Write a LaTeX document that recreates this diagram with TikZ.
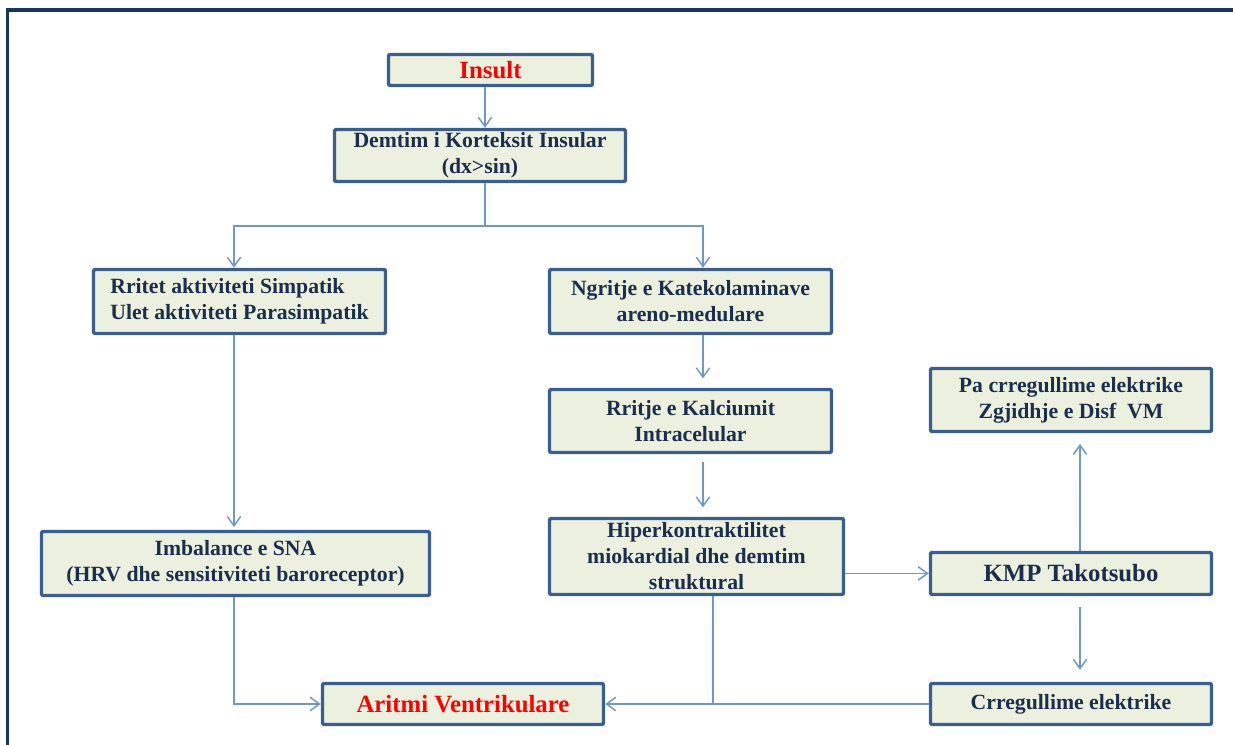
\documentclass[tikz,border=0pt]{standalone}
\usepackage{fontspec}
\setmainfont{Liberation Serif}
\usetikzlibrary{arrows.meta,calc}
\definecolor{boxfill}{HTML}{EBF1DE}
\definecolor{boxdraw}{HTML}{3A5F8C}
\definecolor{txt}{HTML}{1B2F4D}
\definecolor{arrc}{HTML}{6F97CC}
\definecolor{framec}{HTML}{17365D}
\definecolor{redt}{HTML}{FF0000}
\tikzset{
  stepbox/.style={draw=boxdraw, fill=boxfill, line width=2.6pt, rounded corners=1pt,
    align=center, inner sep=0pt, text=txt,
    font=\bfseries\fontsize{16.3}{19.5}\selectfont},
  bigbox/.style={stepbox, font=\bfseries\fontsize{18.6}{22}\selectfont},
  conn/.style={draw=arrc, line width=1.1pt},
  arr/.style={conn, -{Straight Barb[length=7pt,width=10pt,line width=1.1pt]}},
}
\begin{document}
\begin{tikzpicture}[x=0.75pt,y=-0.75pt]
\useasboundingbox (0,0) rectangle (1233,745);
\draw[framec, line width=2.3pt] (7.5,746) -- (7.5,10) -- (1234,10);

\node[bigbox, minimum width=153pt, minimum height=23.25pt, text=redt] (insult) at (490.5,70) {Insult};
\node[stepbox, minimum width=218.25pt, minimum height=39pt] (demtim) at (480,155.5) {Demtim i Korteksit Insular\\(dx>sin)};
\node[stepbox, minimum width=219pt, minimum height=48pt, align=left] (rritet) at (239.5,301.5) {Rritet aktiviteti Simpatik\\Ulet aktiviteti Parasimpatik};
\node[stepbox, minimum width=211.5pt, minimum height=48pt] (ngritje) at (690.5,301.5) {Ngritje e Katekolaminave\\areno-medulare};
\node[stepbox, minimum width=211.5pt, minimum height=47.25pt] (rritje) at (690.5,421) {Rritje e Kalciumit\\Intracelular};
\node[stepbox, minimum width=220.5pt, minimum height=57pt] (hiper) at (696.5,556.5) {Hiperkontraktilitet\\miokardial dhe demtim\\struktural};
\node[stepbox, minimum width=291pt, minimum height=48pt] (imb) at (235.5,563.5) {Imbalance e SNA\\(HRV dhe sensitiviteti baroreceptor)};
\node[bigbox, minimum width=210.75pt, minimum height=31.5pt] (kmp) at (1071,573.5) {KMP Takotsubo};
\node[stepbox, minimum width=210.75pt, minimum height=47.25pt] (pa) at (1071,400) {Pa crregullime elektrike\\Zgjidhje e Disf\ \ VM};
\node[stepbox, minimum width=210.75pt, minimum height=30.75pt] (crr) at (1071,704) {Crregullime elektrike};
\node[bigbox, minimum width=210.75pt, minimum height=30.75pt, text=redt] (aritmi) at (463,704) {Aritmi Ventrikulare};

\coordinate (cM) at (485,0);
\coordinate (cL) at (234,0);
\coordinate (cR) at (703,0);
\coordinate (cH) at (713,0);
\coordinate (cK) at (1080,0);
\coordinate (br) at (485,226);

\draw[arr] (insult.south -| cM) -- (demtim.north -| cM);
\draw[conn] (demtim.south -| cM) -- (br);
\draw[arr] (br) -| (rritet.north -| cL);
\draw[arr] (br) -| (ngritje.north -| cR);
\draw[arr] (rritet.south -| cL) -- ([yshift=2pt]imb.north -| cL);
\draw[arr, shorten >=7pt] (ngritje.south -| cR) -- (rritje.north -| cR);
\draw[arr, shorten <=6pt, shorten >=7pt] (rritje.south -| cR) -- (hiper.north -| cR);
\draw[arr] (hiper.east |- kmp.west) -- (kmp.west);
\draw[arr, shorten >=8pt] (kmp.north -| cK) -- (pa.south -| cK);
\draw[arr, shorten <=8pt, shorten >=9pt] (kmp.south -| cK) -- (crr.north -| cK);
\draw[arr] (crr.west) -- (aritmi.east);
\draw[conn] (hiper.south -| cH) -- (aritmi.east -| cH);
\draw[arr] (imb.south -| cL) |- (aritmi.west);
\end{tikzpicture}
\end{document}
